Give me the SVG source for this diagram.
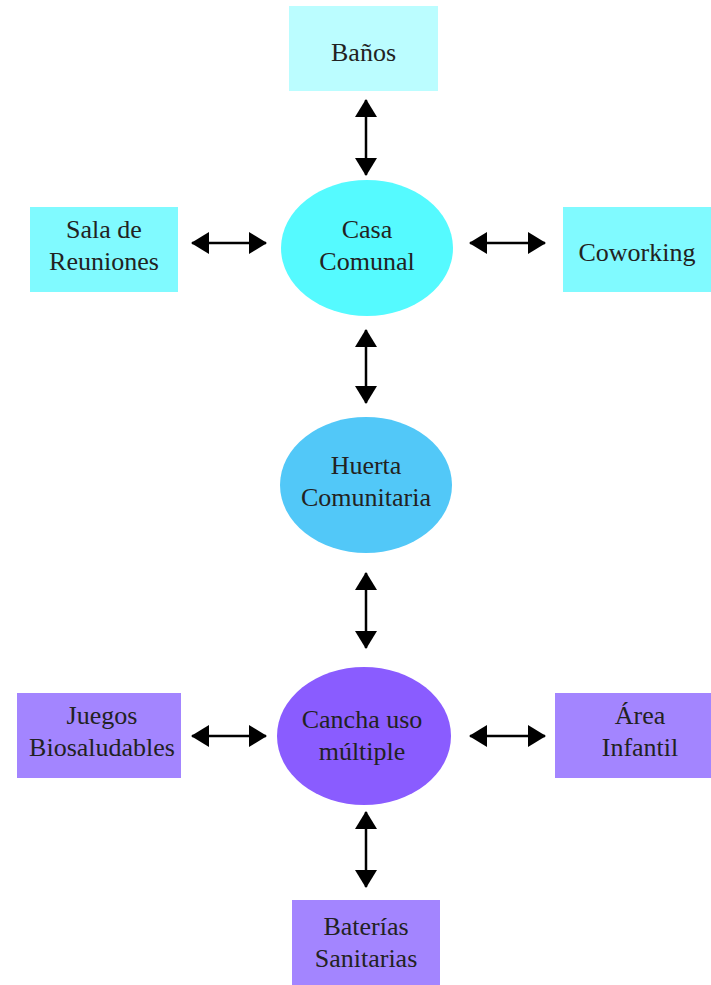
<svg xmlns="http://www.w3.org/2000/svg" width="711" height="985" viewBox="0 0 711 985">
<style>
text{font-family:"Liberation Serif","Times New Roman",serif;font-size:26px;fill:#222;text-anchor:middle}
.c{stroke:#000;stroke-width:2.5;fill:none;marker-start:url(#a);marker-end:url(#a)}
</style>
<defs>
<marker id="a" viewBox="0 0 18 22" refX="17" refY="11" markerWidth="18" markerHeight="22" markerUnits="userSpaceOnUse" orient="auto-start-reverse">
<path d="M0,0L18,11L0,22z" fill="#000"/>
</marker>
</defs>
<rect width="711" height="985" fill="#fff"/>
<g id="connectors">
<line class="c" x1="366" y1="100" x2="366" y2="175"/>
<line class="c" x1="192" y1="243" x2="266" y2="243"/>
<line class="c" x1="470" y1="243" x2="545" y2="243"/>
<line class="c" x1="366" y1="330" x2="366" y2="403"/>
<line class="c" x1="366" y1="573" x2="366" y2="648"/>
<line class="c" x1="192" y1="736" x2="266" y2="736"/>
<line class="c" x1="470" y1="736" x2="545" y2="736"/>
<line class="c" x1="366" y1="812" x2="366" y2="887"/>
</g>
<g id="banos"><rect x="289" y="6" width="149" height="85" fill="#BBFDFF"/><text x="363.5" y="61">Baños</text></g>
<g id="casa"><ellipse cx="367" cy="248" rx="86" ry="68" fill="#55FAFF"/><text x="367" y="238">Casa</text><text x="367" y="270">Comunal</text></g>
<g id="sala"><rect x="30" y="207" width="148" height="85" fill="#80FAFF"/><text x="104" y="238">Sala de</text><text x="104" y="270">Reuniones</text></g>
<g id="coworking"><rect x="563" y="207" width="148" height="85" fill="#80FAFF"/><text x="637" y="261">Coworking</text></g>
<g id="huerta"><ellipse cx="366" cy="485" rx="86" ry="68" fill="#52C8F8"/><text x="366" y="474">Huerta</text><text x="366" y="506">Comunitaria</text></g>
<g id="cancha"><ellipse cx="364" cy="736" rx="87" ry="69" fill="#8A5CFF"/><text x="362" y="728">Cancha uso</text><text x="362" y="760">múltiple</text></g>
<g id="juegos"><rect x="17" y="693" width="164" height="85" fill="#A385FF"/><text x="102" y="724">Juegos</text><text x="102" y="756">Biosaludables</text></g>
<g id="area"><rect x="555" y="693" width="156" height="85" fill="#A385FF"/><text x="640" y="724">Área</text><text x="640" y="756">Infantil</text></g>
<g id="baterias"><rect x="292" y="900" width="148" height="85" fill="#A385FF"/><text x="366" y="935">Baterías</text><text x="366" y="967">Sanitarias</text></g>
</svg>
